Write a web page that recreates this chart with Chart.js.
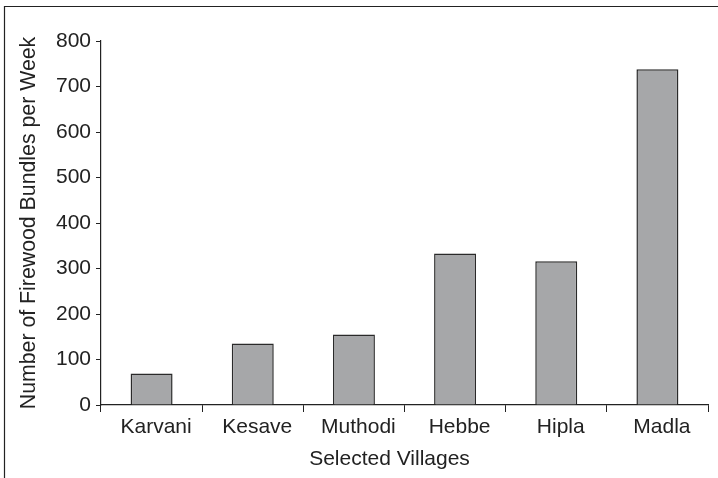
<!DOCTYPE html>
<html>
<head>
<meta charset="utf-8">
<script src="https://cdn.jsdelivr.net/npm/chart.js@4"></script>
<style>
html,body{margin:0;padding:0;background:#fff;}
#wrap{width:718px;height:478px;position:relative;}
</style>
</head>
<body>
<div id="wrap"><canvas id="c" width="718" height="478"></canvas></div>
<script>
const categories = ["Karvani", "Kesave", "Muthodi", "Hebbe", "Hipla", "Madla"];
const bundlesPerWeek = [69, 135, 155, 333, 316, 738];
const yTicks = [0, 100, 200, 300, 400, 500, 600, 700, 800];
const xTitle = "Selected Villages";
const yTitle = "Number of Firewood Bundles per Week";

const FONT = "'Liberation Sans', Arial, Helvetica, sans-serif";
const INK = "#222222";

const framePlugin = {
  id: 'frame',
  beforeDraw(chart) {
    const ctx = chart.ctx;
    ctx.save();
    ctx.strokeStyle = INK;
    ctx.lineWidth = 1.2;
    ctx.beginPath();
    ctx.moveTo(4.5, 478);
    ctx.lineTo(4.5, 6.5);
    ctx.lineTo(718, 6.5);
    ctx.stroke();
    ctx.restore();
  },
  afterDraw(chart) {
    const ctx = chart.ctx;
    const xs = chart.scales.x;
    ctx.save();
    ctx.fillStyle = INK;
    ctx.font = "21px " + FONT;
    ctx.textAlign = 'center';
    ctx.textBaseline = 'middle';
    ctx.fillText(xTitle, xs.left + (xs.right - xs.left) / 2 - 15, 459);
    ctx.restore();
  }
};

new Chart(document.getElementById('c'), {
  type: 'bar',
  data: {
    labels: categories,
    datasets: [{
      data: bundlesPerWeek,
      backgroundColor: '#a6a7a9',
      borderColor: '#2a2a2a',
      borderWidth: 1.5,
      borderSkipped: 'start',
      categoryPercentage: 1.0,
      barPercentage: 0.415
    }]
  },
  options: {
    responsive: false,
    animation: false,
    devicePixelRatio: 1,
    layout: { padding: { top: 41, right: 10, bottom: 0, left: 12 } },
    plugins: { legend: { display: false }, tooltip: { enabled: false } },
    scales: {
      x: {
        offset: true,
        grid: { display: true, offset: true, drawOnChartArea: false, drawTicks: true, tickLength: 7, color: INK, lineWidth: 1 },
        border: { display: true, color: INK, width: 1.2 },
        ticks: { color: INK, font: { family: FONT, size: 21 }, padding: 3, maxRotation: 0, labelOffset: 4.5 },
        title: { display: false },
        afterFit(scale) { scale.height = 73; }
      },
      y: {
        min: 0,
        max: 800,
        afterBuildTicks(scale) { scale.ticks = yTicks.map(v => ({ value: v })); },
        grid: { display: true, drawOnChartArea: false, drawTicks: true, tickLength: 5, color: INK, lineWidth: 1 },
        border: { display: true, color: INK, width: 1.2 },
        ticks: { color: INK, font: { family: FONT, size: 21 }, padding: 5 },
        title: { display: true, text: yTitle, color: INK, font: { family: FONT, size: 21.3 }, padding: { top: 4, bottom: 0 } },
        afterFit(scale) { scale.width = 89; }
      }
    }
  },
  plugins: [framePlugin]
});
</script>
</body>
</html>
